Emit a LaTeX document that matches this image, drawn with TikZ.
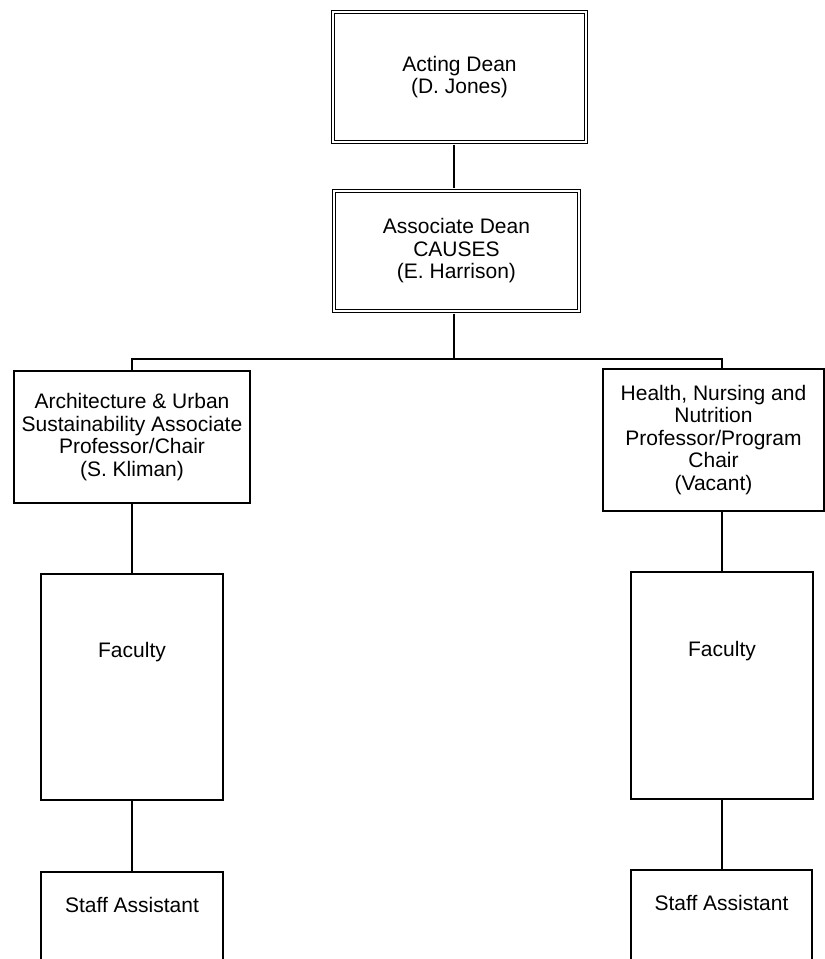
\documentclass[tikz,border=0pt]{standalone}
\usepackage{fontspec}
\setmainfont{Liberation Sans}
\usetikzlibrary{calc}

\begin{document}
\begin{tikzpicture}[x=1pt, y=-1pt,
		unit/.style={draw, line width=1.6pt, rectangle, align=center, inner sep=0pt, font=\fontsize{21}{22.5}\selectfont},
		head/.style={unit, double, line width=1.2pt, double distance=2pt},
		link/.style={line width=1.4pt}]
			%%%%% START %%%%%
			
			\useasboundingbox (0, 0) rectangle (825, 959);
			
			\node[head, minimum width=253pt, minimum height=130pt] (dean) at (459.5, 77) {Acting Dean\\(D. Jones)};
			\node[head, minimum width=245pt, minimum height=120pt] (assoc) at (456.5, 251) {Associate Dean\\CAUSES\\(E. Harrison)};
			\coordinate (trunk) at (454, 359);
			
			\node[unit, minimum width=236pt, minimum height=132pt] (arch) at (132, 437) {Architecture \& Urban\\Sustainability Associate\\Professor/Chair\\(S. Kliman)};
			\node[unit, minimum width=221pt, minimum height=142pt] (health) at (713.5, 440) {Health, Nursing and\\Nutrition\\Professor/Program\\Chair\\(Vacant)};
			
			\node[unit, minimum width=182pt, minimum height=226pt, text depth=74pt] (fac1) at (132, 687) {Faculty};
			\node[unit, minimum width=182pt, minimum height=227pt, text depth=74pt] (fac2) at (722, 685.5) {Faculty};
			
			\node[unit, minimum width=182pt, minimum height=130pt, text depth=64pt] (staff1) at (132, 937) {Staff Assistant};
			\node[unit, minimum width=181pt, minimum height=130pt, text depth=64pt] (staff2) at (721.5, 935) {Staff Assistant};
			
			\draw[link, shorten <=2pt, shorten >=2pt] (dean.south -| trunk) -- (assoc.north -| trunk);
			\draw[link, shorten <=2pt] (assoc.south -| trunk) -- (trunk);
			\draw[link] (arch.north) |- (trunk) -| (health.north -| fac2);
			
			\draw[link] (arch.south) -- (fac1.north);
			\draw[link] (health.south -| fac2) -- (fac2.north);
			\draw[link] (fac1.south) -- (staff1.north);
			\draw[link] (fac2.south) -- (staff2.north -| fac2);
			
			%%%%% END %%%%%
\end{tikzpicture}
\end{document}
